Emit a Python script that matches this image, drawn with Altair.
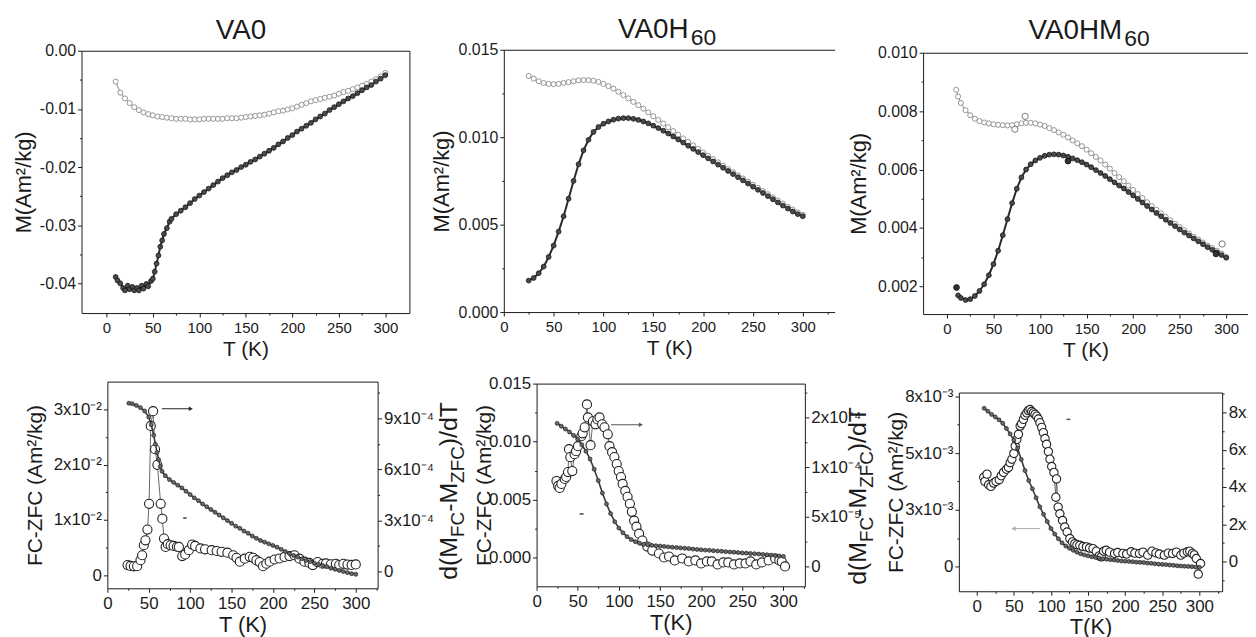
import altair as alt
import pandas as pd

W, H = 1248, 629
FONT = "Liberation Sans"
INK = "#1b1b1b"

# ---------------- data ----------------
# VA0, M(T): FC (open) and ZFC (filled)
va0_fc_T = [10, 15, 20, 25, 30, 35, 40, 45, 50, 55, 60, 65, 70, 75, 80, 85, 90, 95, 100, 105,
            110, 115, 120, 125, 130, 135, 140, 145, 150, 155, 160, 165, 170, 175, 180, 185, 190,
            195, 200, 205, 210, 215, 220, 225, 230, 235, 240, 245, 250, 255, 260, 265, 270, 275,
            280, 285, 290, 295, 300]
va0_fc_M = [-0.0053, -0.0072, -0.0082, -0.0090, -0.0097, -0.0102, -0.0106, -0.0109, -0.0111,
            -0.0113, -0.0114, -0.0115, -0.0116, -0.0117, -0.0117, -0.0117, -0.0118, -0.0118,
            -0.0118, -0.0117, -0.0117, -0.0117, -0.0117, -0.0117, -0.0116, -0.0116, -0.0116,
            -0.0115, -0.0114, -0.0113, -0.0112, -0.0111, -0.0110, -0.0108, -0.0106, -0.0104,
            -0.0103, -0.0101, -0.0099, -0.0096, -0.0093, -0.0090, -0.0087, -0.0085, -0.0083,
            -0.0081, -0.0079, -0.0077, -0.0074, -0.0071, -0.0069, -0.0066, -0.0063, -0.0060,
            -0.0057, -0.0053, -0.0049, -0.0044, -0.0038]
va0_zfc_T = [10, 12, 15, 18, 20, 23, 25, 28, 30, 33, 35, 38, 40, 43, 45, 48, 50, 52, 54, 56, 58,
             60, 62, 65, 68, 70, 75, 80, 85, 90, 95, 100, 105, 110, 115, 120, 125, 130, 135, 140,
             145, 150, 155, 160, 165, 170, 175, 180, 185, 190, 195, 200, 205, 210, 215, 220, 225,
             230, 235, 240, 245, 250, 255, 260, 265, 270, 275, 280, 285, 290, 295, 300]
va0_zfc_M = [-0.0389, -0.0395, -0.0400, -0.0408, -0.0412, -0.0404, -0.0410, -0.0406, -0.0412,
             -0.0408, -0.0412, -0.0404, -0.0409, -0.0401, -0.0405, -0.0396, -0.0392, -0.0380,
             -0.0366, -0.0352, -0.0337, -0.0326, -0.0315, -0.0305, -0.0294, -0.0289,
             -0.0281, -0.0275, -0.0269, -0.0262, -0.0255, -0.0249, -0.0243, -0.0237, -0.0231,
             -0.0225, -0.0219, -0.0214, -0.0209, -0.0205, -0.0200, -0.0196, -0.0191, -0.0187,
             -0.0182, -0.0177, -0.0172, -0.0167, -0.0161, -0.0156, -0.0150, -0.0145, -0.0139,
             -0.0134, -0.0129, -0.0124, -0.0118, -0.0113, -0.0108, -0.0102, -0.0097, -0.0092,
             -0.0087, -0.0082, -0.0078, -0.0073, -0.0068, -0.0063, -0.0059, -0.0053, -0.0048,
             -0.0042]

# VA0H60, M(T)
h60_T = [25, 30, 35, 40, 45, 50, 55, 60, 65, 70, 75, 80, 85, 90, 95, 100, 105, 110, 115, 120,
         125, 130, 135, 140, 145, 150, 155, 160, 165, 170, 175, 180, 185, 190, 195, 200, 205,
         210, 215, 220, 225, 230, 235, 240, 245, 250, 255, 260, 265, 270, 275, 280, 285, 290,
         295, 300]
h60_fc_M = [0.01350, 0.01335, 0.01320, 0.01310, 0.01305, 0.01303, 0.01305, 0.01310, 0.01315,
            0.01320, 0.01325, 0.01327, 0.01326, 0.01323, 0.01316, 0.01305, 0.01292, 0.01278,
            0.01260, 0.01241, 0.01222, 0.01202, 0.01183, 0.01163, 0.01142, 0.01120, 0.01099,
            0.01078, 0.01057, 0.01035, 0.01014, 0.00993, 0.00973, 0.00953, 0.00933, 0.00913,
            0.00894, 0.00875, 0.00856, 0.00837, 0.00818, 0.00800, 0.00782, 0.00764, 0.00746,
            0.00728, 0.00710, 0.00692, 0.00674, 0.00656, 0.00638, 0.00620, 0.00602, 0.00586,
            0.00570, 0.00556]
h60_zfc_M = [0.00180, 0.00195, 0.00222, 0.00260, 0.00315, 0.00380, 0.00460, 0.00548, 0.00648,
             0.00750, 0.00845, 0.00925, 0.00985, 0.01030, 0.01058, 0.01077, 0.01090, 0.01100,
             0.01106, 0.01109, 0.01109, 0.01105, 0.01099, 0.01090, 0.01079, 0.01066, 0.01052,
             0.01037, 0.01021, 0.01004, 0.00987, 0.00969, 0.00951, 0.00933, 0.00915, 0.00897,
             0.00879, 0.00861, 0.00843, 0.00825, 0.00807, 0.00789, 0.00771, 0.00753, 0.00735,
             0.00717, 0.00699, 0.00681, 0.00663, 0.00645, 0.00627, 0.00609, 0.00592, 0.00575,
             0.00560, 0.00548]

# VA0HM60, M(T)
hm60_fc_T = [10, 12, 15, 20, 25, 30, 35, 40, 45, 50, 55, 60, 65, 70, 75, 80, 85, 90, 95, 100,
             105, 110, 115, 120, 125, 130, 135, 140, 145, 150, 155, 160, 165, 170, 175, 180, 185,
             190, 195, 200, 205, 210, 215, 220, 225, 230, 235, 240, 245, 250, 255, 260, 265, 270,
             275, 280, 285, 290, 295, 300]
hm60_fc_M = [0.00873, 0.00850, 0.00828, 0.00803, 0.00786, 0.00774, 0.00766, 0.00761, 0.00758,
             0.00755, 0.00753, 0.00752, 0.00751, 0.00752, 0.00755, 0.00758, 0.00760, 0.00760,
             0.00758, 0.00754, 0.00749, 0.00742, 0.00735, 0.00727, 0.00719, 0.00710, 0.00700,
             0.00690, 0.00680, 0.00668, 0.00656, 0.00643, 0.00631, 0.00617, 0.00603, 0.00588,
             0.00574, 0.00560, 0.00545, 0.00530, 0.00516, 0.00502, 0.00488, 0.00475, 0.00462,
             0.00450, 0.00438, 0.00426, 0.00414, 0.00403, 0.00392, 0.00381, 0.00370, 0.00360,
             0.00350, 0.00340, 0.00331, 0.00322, 0.00312, 0.00300]
hm60_fc_out_T = [73, 84, 295.6]
hm60_fc_out_M = [0.00738, 0.00782, 0.00345]
hm60_zfc_T = [12, 15, 20, 25, 30, 35, 40, 45, 50, 55, 60, 65, 70, 75, 80, 85, 90, 95, 100, 105,
              110, 115, 120, 125, 130, 135, 140, 145, 150, 155, 160, 165, 170, 175, 180, 185, 190,
              195, 200, 205, 210, 215, 220, 225, 230, 235, 240, 245, 250, 255, 260, 265, 270, 275,
              280, 285, 290, 295, 300]
hm60_zfc_M = [0.00169, 0.00160, 0.00153, 0.00156, 0.00167, 0.00184, 0.00207, 0.00238, 0.00276,
              0.00322, 0.00375, 0.00430, 0.00485, 0.00534, 0.00573, 0.00600, 0.00618, 0.00631,
              0.00640, 0.00647, 0.00651, 0.00652, 0.00651, 0.00648, 0.00644, 0.00638, 0.00632,
              0.00625, 0.00617, 0.00608, 0.00598, 0.00588, 0.00578, 0.00567, 0.00556, 0.00545,
              0.00535, 0.00523, 0.00511, 0.00499, 0.00487, 0.00475, 0.00463, 0.00451, 0.00440,
              0.00428, 0.00417, 0.00406, 0.00395, 0.00384, 0.00374, 0.00364, 0.00354, 0.00344,
              0.00334, 0.00325, 0.00316, 0.00307, 0.00298]
hm60_zfc_out_T = [10.3, 130, 289]
hm60_zfc_out_M = [0.00196, 0.00629, 0.00311]

# VA0: FC-ZFC (left) and d(MFC-MZFC)/dT in units of 1e-4 (right)
va0_d_T = [26, 30, 35, 40, 45, 50, 53, 56, 58, 60, 62, 64, 66, 70, 75, 80, 85, 90, 95, 100, 105,
           110, 115, 120, 125, 130, 135, 140, 145, 150, 155, 160, 165, 170, 175, 180, 185, 190,
           195, 200, 205, 210, 215, 220, 225, 230, 235, 240, 245, 250, 255, 260, 265, 270, 275,
           280, 285, 290, 295, 300]
va0_d_M = [0.0311, 0.0310, 0.0307, 0.0303, 0.0297, 0.0286, 0.0272, 0.0253, 0.0237, 0.0222,
           0.0209, 0.0197, 0.0188, 0.0180, 0.0173, 0.0168, 0.0163, 0.0158, 0.0152, 0.0146,
           0.0140, 0.0135, 0.0129, 0.0124, 0.0119, 0.0114, 0.0109, 0.0104, 0.0099, 0.0094,
           0.0089, 0.0085, 0.0080, 0.0076, 0.0071, 0.0067, 0.0063, 0.0060, 0.0057, 0.0054,
           0.0051, 0.0047, 0.0043, 0.0039, 0.0036, 0.0033, 0.0030, 0.0027, 0.0025, 0.0022,
           0.0020, 0.0018, 0.0016, 0.0013, 0.0011, 0.0009, 0.0007, 0.0005, 0.0003, 0.0002]
va0_r_T = [24.4, 28, 32, 36, 40, 42, 44, 46, 48.4, 50.4, 52.4, 55.2, 57.6, 60.4, 64.4, 66.4, 68.4,
           70.4, 73, 76.4, 80, 84, 86.4, 90.4, 94, 98.4, 102.4, 106, 112.4, 118, 126, 132, 138,
           145, 152, 156, 160, 166, 172, 176, 180, 184, 188, 192, 196, 202, 208, 214, 220, 226,
           232, 238, 244, 248, 254, 260, 264, 270, 276, 280, 285, 290, 295, 300]
va0_r_V = [0.37, 0.32, 0.30, 0.31, 0.66, 0.95, 1.54, 1.83, 2.46, 3.98, 8.56, 9.43, 7.19, 6.27,
           3.98, 3.10, 1.93, 1.44, 1.60, 1.54, 1.50, 1.45, 1.44, 0.90, 1.00, 1.25, 1.58, 1.50,
           1.35, 1.30, 1.25, 1.20, 1.15, 1.10, 0.95, 0.80, 0.57, 0.75, 0.86, 0.80, 0.66, 0.55,
           0.31, 0.45, 0.57, 0.70, 0.76, 0.85, 0.90, 0.95, 0.75, 0.57, 0.50, 0.37, 0.55, 0.45,
           0.47, 0.42, 0.45, 0.37, 0.45, 0.40, 0.38, 0.41]

# VA0H60: FC-ZFC (left) and derivative in units of 1e-5 (right)
h60_d_M = [0.01157, 0.01133, 0.01108, 0.01083, 0.01053, 0.01020, 0.00972, 0.00917, 0.00849,
           0.00762, 0.00664, 0.00556, 0.00462, 0.00379, 0.00309, 0.00254, 0.00213, 0.00180,
           0.00155, 0.00137, 0.00124, 0.00114, 0.00109, 0.00105, 0.00102, 0.00099, 0.00096,
           0.00092, 0.00089, 0.00086, 0.00083, 0.00080, 0.00077, 0.00073, 0.00070, 0.00067,
           0.00064, 0.00062, 0.00059, 0.00056, 0.00054, 0.00051, 0.00048, 0.00046, 0.00043,
           0.00040, 0.00038, 0.00035, 0.00033, 0.00030, 0.00027, 0.00024, 0.00021, 0.00017,
           0.00013, 0.00010]
h60_r_T = [24.2, 26.2, 28, 30.2, 34.2, 36, 38.2, 39.4, 41, 43.4, 46.2, 48, 50.3, 54.3, 56, 58.4,
           61.2, 62.4, 65.6, 68.4, 71.6, 74, 76.5, 79.7, 82.5, 86.5, 88.6, 91.8, 94.6, 97.4, 99.8,
           102.6, 104.6, 107.8, 110.6, 113.4, 115.8, 118.6, 121.4, 124.6, 128.6, 134.6, 140.6,
           148.7, 155, 161, 168, 177, 185, 193, 200, 207, 213, 220, 227, 233, 240, 247, 254, 260,
           267, 274, 282, 290, 295, 298, 302]
h60_r_V = [8.6, 8.1, 7.9, 8.3, 8.8, 9.0, 9.5, 11.8, 11.0, 9.6, 11.3, 11.6, 12.1, 13.1, 13.4, 14.0,
           16.3, 15.0, 12.2, 14.6, 14.3, 14.8, 15.0, 14.3, 14.0, 13.3, 12.1, 11.5, 11.0, 10.3,
           9.6, 9.0, 8.3, 7.6, 7.0, 6.3, 5.5, 4.6, 4.0, 3.3, 2.6, 2.0, 1.6, 1.3, 0.9, 1.0, 0.6,
           0.8, 0.5, 0.6, 0.3, 0.5, 0.5, 0.2, 0.4, 0.4, 0.2, 0.3, 0.3, 0.5, 0.2, 0.4, 0.6, 0.8,
           0.6, 0.5, 0.0]

# VA0HM60: FC-ZFC (left) and derivative in units of 1e-5 (right)
hm60_d_T = [10, 15, 20, 25, 30, 35, 40, 45, 50, 55, 60, 65, 70, 75, 80, 85, 90, 95, 100, 105,
            110, 115, 120, 125, 130, 135, 140, 145, 150, 155, 160, 165, 170, 175, 180, 185, 190,
            195, 200, 205, 210, 215, 220, 225, 230, 235, 240, 245, 250, 255, 260, 265, 270, 275,
            280, 285, 290, 295, 300]
hm60_d_M = [0.00698, 0.00685, 0.00671, 0.00660, 0.00647, 0.00632, 0.00609, 0.00585, 0.00558,
            0.00522, 0.00472, 0.00423, 0.00379, 0.00343, 0.00303, 0.00263, 0.00230, 0.00198,
            0.00167, 0.00143, 0.00122, 0.00104, 0.00090, 0.00080, 0.00071, 0.00063, 0.00056,
            0.00051, 0.00047, 0.00043, 0.00040, 0.00037, 0.00034, 0.00032, 0.00030, 0.00028,
            0.00026, 0.00024, 0.00023, 0.00022, 0.00021, 0.00019, 0.00018, 0.00017, 0.00015,
            0.00014, 0.00012, 0.00010, 0.00009, 0.00008, 0.00006, 0.00005, 0.00003, 0.00002,
            0.00001, 0.00000, -0.00001, -0.00003, -0.00004]
hm60_r_T = [9.4, 11, 13.8, 16, 19.1, 22.8, 26, 30.3, 33, 36.1, 40, 42.8, 45, 47.3, 50, 51.8, 54,
            56.2, 58.5, 60.5, 62.9, 65, 67.4, 69.5, 71.8, 74, 76.3, 78.5, 80.8, 83, 85.2, 87.5,
            89.7, 92, 94.1, 96.5, 98.6, 101, 104, 106.6, 107.5, 109.7, 112, 115.6, 118.6, 121.8,
            125.4, 129, 132.1, 135, 138.8, 143, 147.7, 152, 156.6, 161, 165, 167.8, 171, 174.5,
            179, 185.7, 190, 196.9, 202, 208, 213, 219.2, 224, 230.4, 236, 241.5, 246, 252.7,
            258, 263.8, 269, 275, 279, 283.7, 287, 290.4, 293, 295.8, 298.5, 301.6]
hm60_r_V = [4.52, 4.30, 4.69, 4.12, 4.03, 4.21, 4.30, 4.39, 4.60, 4.78, 4.95, 5.05, 5.30, 5.49,
            5.80, 6.20, 6.55, 6.83, 7.27, 7.40, 7.63, 7.85, 7.98, 8.10, 8.16, 8.05, 7.98, 7.90,
            7.80, 7.65, 7.45, 7.20, 6.92, 6.60, 6.29, 5.90, 5.49, 5.10, 4.78, 3.45, 4.43, 2.92,
            2.56, 2.20, 1.85, 1.58, 1.23, 1.05, 0.96, 0.90, 0.87, 0.80, 0.78, 0.72, 0.69, 0.55,
            0.30, 0.25, 0.55, 0.60, 0.50, 0.43, 0.48, 0.43, 0.40, 0.52, 0.45, 0.43, 0.50, 0.34,
            0.55, 0.46, 0.40, 0.34, 0.45, 0.43, 0.50, 0.34, 0.45, 0.52, 0.55, 0.43, 0.35, 0.16,
            -0.68, -0.11]

# arrows and small marks drawn inside the lower panels (data coordinates)
va0_arrow = {"T1": [66.0], "T2": [100.8], "V": [0.0301]}
va0_tick = {"T1": [91.6], "T2": [95.6], "V": [0.01036]}
h60_arrow = {"T1": [90.6], "T2": [126.8], "V": [0.01145]}
h60_tick = {"T1": [52.3], "T2": [57.1], "V": [0.00376]}
hm60_arrow = {"T1": [85.3], "T2": [49.5], "V": [0.00167]}
hm60_tick = {"T1": [120.9], "T2": [126.2], "V": [0.00649]}

# ---------------- helpers ----------------
def df(T, V):
    return pd.DataFrame({"T": T, "V": V})


def sc(dom, rng):
    return alt.Scale(domain=dom, range=rng, nice=False, zero=False)


def axis(orient, pos, values=(), labels=True, tick=4, expr=None, fmt=None, title=None,
         fs=16, tfs=21, tpad=2, lpad=2, domain=True, ticks=True):
    off = {"bottom": pos - H, "top": -pos, "left": -pos, "right": pos - W}[orient]
    kw = dict(orient=orient, offset=off, grid=False, domain=domain, ticks=ticks,
              labels=labels, values=list(values), domainColor=INK, domainWidth=1,
              tickColor=INK, tickWidth=1, tickSize=tick, labelFont=FONT, labelFontSize=fs,
              labelColor=INK, labelPadding=lpad, labelOverlap=False, labelFlush=False,
              titleFont=FONT, titleFontSize=tfs, titleFontWeight="normal", titleColor=INK,
              titlePadding=tpad, title=title)
    if expr:
        kw["labelExpr"] = expr
    if fmt:
        kw["format"] = fmt
    return alt.Axis(**kw)


def enc(chart, xs, ys, xa=None, ya=None):
    return chart.encode(x=alt.X("T:Q", scale=xs, axis=xa), y=alt.Y("V:Q", scale=ys, axis=ya))


def line(data, xs, ys, color, width=1.0, xa=None, ya=None):
    return enc(alt.Chart(data).mark_line(color=color, strokeWidth=width), xs, ys, xa, ya)


def dots(data, xs, ys, fill, stroke, size, sw=0.8, xa=None, ya=None):
    m = alt.Chart(data).mark_point(shape="circle", filled=True, fill=fill, stroke=stroke,
                                   strokeWidth=sw, size=size, opacity=1)
    return enc(m, xs, ys, xa, ya)


def arrow(spec, xs, ys, color, head):
    d = pd.DataFrame(spec)
    r = alt.Chart(d).mark_rule(color=color, strokeWidth=1).encode(
        x=alt.X("T1:Q", scale=xs, axis=None), x2="T2:Q", y=alt.Y("V:Q", scale=ys, axis=None))
    h = alt.Chart(d).mark_point(shape=head, filled=True, color=color, size=22, opacity=1).encode(
        x=alt.X("T2:Q", scale=xs, axis=None), y=alt.Y("V:Q", scale=ys, axis=None))
    return [r, h]


def dash(spec, xs, ys, color):
    d = pd.DataFrame(spec)
    return alt.Chart(d).mark_rule(color=color, strokeWidth=1.5).encode(
        x=alt.X("T1:Q", scale=xs, axis=None), x2="T2:Q", y=alt.Y("V:Q", scale=ys, axis=None))


ONE = pd.DataFrame({"k": [0]})
AW = {"d": 0.556, "(": 0.333, "M": 0.833, "F": 0.611, "C": 0.722, "-": 0.333, "Z": 0.611,
      ")": 0.333, "/": 0.278, "T": 0.611, "V": 0.667, "A": 0.667, "0": 0.556, "H": 0.722,
      "6": 0.556}


def tw(s, fs):
    return sum(AW.get(c, 0.556) for c in s) * fs


def text(s, x, y, fs, angle=0):
    kw = dict(text=s, align="left", baseline="alphabetic", font=FONT, fontSize=fs, color=INK)
    if angle:
        kw["angle"] = angle
    return alt.Chart(ONE).mark_text(**kw).encode(x=alt.value(x), y=alt.value(y))


def panel_title(main, sub, x0, base, fs=28, sfs=23):
    out = [text(main, x0, base, fs)]
    if sub:
        out.append(text(sub, x0 + tw(main, fs), base + 7, sfs))
    return out


def dmdt_title(xb, yc, fs=25, sfs=19):
    pieces = [("d(M", False), ("FC", True), ("-M", False), ("ZFC", True), (")/dT", False)]
    total = sum(tw(p, sfs if s else fs) for p, s in pieces)
    y = yc + total / 2
    out = []
    for p, s in pieces:
        f = sfs if s else fs
        out.append(text(p, xb + (0.26 * fs if s else 0), y, f, angle=270))
        y -= tw(p, f)
    return out


MAJ_T = [0, 50, 100, 150, 200, 250, 300]
MIN_T = [25, 75, 125, 175, 225, 275, 325]
DASH_MINUS = "replace(format(datum.value, '.2f'), '\u2212', '-')"

FC_OPEN = dict(fill="white", stroke="#8a8a8a", size=26, sw=0.9)
ZFC_FILL = dict(fill="#4a4a4a", stroke="#151515", size=24, sw=0.8)

layers = []

# ---------------- panel 1: VA0 ----------------
x1 = sc([-26.7, 325.9], [74, 404])
y1 = sc([-0.0451, 0.0], [305, 41])
d1f, d1z = df(va0_fc_T, va0_fc_M), df(va0_zfc_T, va0_zfc_M)
layers += [
    line(d1f, x1, y1, "#a0a0a0", 1.2,
         axis("bottom", 305, MAJ_T, fs=15, lpad=4, title="T (K)", tfs=21, tpad=3),
         axis("left", 74, [0, -0.01, -0.02, -0.03, -0.04], expr=DASH_MINUS,
              title="M(Am\u00b2/kg)", tfs=22, tpad=4)),
    line(d1z, x1, y1, "#2a2a2a", 2.0,
         axis("bottom", 305, MIN_T[:-1], labels=False, tick=2, domain=False),
         axis("left", 74, [-0.005, -0.015, -0.025, -0.035], labels=False, tick=2,
              domain=False)),
    dots(d1f, x1, y1, xa=axis("top", 41, labels=False, ticks=False, tick=0),
         ya=axis("right", 404, labels=False, ticks=False, tick=0), **FC_OPEN),
    dots(d1z, x1, y1, **ZFC_FILL),
]
layers += panel_title("VA0", None, 209, 29)

# ---------------- panel 2: VA0H60 ----------------
x2 = sc([0, 332], [499, 832])
y2 = sc([0, 0.015], [304, 40])
d2f, d2z = df(h60_T, h60_fc_M), df(h60_T, h60_zfc_M)
layers += [
    line(d2f, x2, y2, "#a0a0a0", 1.2,
         axis("bottom", 304, MAJ_T, fs=15, lpad=4, title="T (K)", tfs=21, tpad=3),
         axis("left", 499, [0, 0.005, 0.010, 0.015], fmt=".3f",
              title="M(Am\u00b2/kg)", tfs=22, tpad=5)),
    line(d2z, x2, y2, "#2a2a2a", 2.0,
         axis("bottom", 304, MIN_T, labels=False, tick=2, domain=False),
         axis("left", 499, [0.0025, 0.0075, 0.0125], labels=False, tick=2, domain=False)),
    dots(d2f, x2, y2, xa=axis("top", 40, labels=False, ticks=False, tick=0), **FC_OPEN),
    dots(d2z, x2, y2, **ZFC_FILL),
]
layers += panel_title("VA0H", "60", 614, 28)

# ---------------- panel 3: VA0HM60 ----------------
x3 = sc([-25.6, 323.4], [921, 1248])
y3 = sc([0.00105, 0.010], [306, 43])
d3f, d3z = df(hm60_fc_T, hm60_fc_M), df(hm60_zfc_T, hm60_zfc_M)
layers += [
    line(d3f, x3, y3, "#a0a0a0", 1.2,
         axis("bottom", 306, MAJ_T, fs=15, lpad=4, title="T (K)", tfs=21, tpad=3),
         axis("left", 921, [0.002, 0.004, 0.006, 0.008, 0.010], fmt=".3f",
              title="M(Am\u00b2/kg)", tfs=22, tpad=7)),
    line(d3z, x3, y3, "#2a2a2a", 2.0,
         axis("bottom", 306, MIN_T[:-1], labels=False, tick=2, domain=False),
         axis("left", 921, [0.003, 0.005, 0.007, 0.009], labels=False, tick=2,
              domain=False)),
    dots(d3f, x3, y3, xa=axis("top", 43, labels=False, ticks=False, tick=0), **FC_OPEN),
    dots(df(hm60_fc_out_T, hm60_fc_out_M), x3, y3, fill="white", stroke="#777", size=40,
         sw=1),
    dots(d3z, x3, y3, **ZFC_FILL),
    dots(df(hm60_zfc_out_T, hm60_zfc_out_M), x3, y3, fill="#333", stroke="#111", size=34),
]
layers += panel_title("VA0HM", "60", 1027, 29)

# ---------------- lower panels ----------------
OPEN_BIG = dict(fill="white", stroke="#222", sw=1.1)
SMALL_FILL = dict(fill="#6a6a6a", stroke="#1e1e1e", size=16, sw=0.7)


def lower(dl, dr, xs, yl, yr, box, xmaj_title, lvals, lexpr, lfmt, lminor, rvals, rexpr,
          rminor, rsize, ltpad):
    left, right, top, bottom = box
    out = [
        line(dr, xs, yr, "#555", 0.9,
             axis("bottom", bottom, MAJ_T, fs=17, lpad=3, title=xmaj_title, tfs=22,
                  tpad=3),
             axis("right", right, rvals, expr=rexpr, fs=17, lpad=2)),
        dots(dr, xs, yr, size=rsize,
             xa=axis("bottom", bottom, MIN_T, labels=False, tick=2, domain=False),
             ya=axis("right", right, rminor, labels=False, tick=2, domain=False),
             **OPEN_BIG),
        line(dl, xs, yl, "#3a3a3a", 1.6,
             axis("top", top, labels=False, ticks=False, tick=0),
             axis("left", left, lvals, expr=lexpr, fmt=lfmt, fs=17, lpad=2,
                  title="FC-ZFC (Am\u00b2/kg)", tfs=21, tpad=ltpad)),
        dots(dl, xs, yl, ya=axis("left", left, lminor, labels=False, tick=2, domain=False),
             **SMALL_FILL),
    ]
    return out


# panel 4: VA0
x4 = sc([0, 326.4], [100, 372])
yl4 = sc([-0.00233, 0.035], [582, 374])
yr4 = sc([-0.994, 11.17], [582, 374])
layers += lower(df(va0_d_T, va0_d_M), df(va0_r_T, va0_r_V), x4, yl4, yr4,
                (100, 372, 374, 582), "T (K)",
                [0, 0.01, 0.02, 0.03],
                "datum.value == 0 ? '0' : format(round(datum.value*100), 'd') + 'x10\u207b\u00b2'",
                None, [0.005, 0.015, 0.025],
                [0, 3, 6, 9],
                "datum.value == 0 ? '0' : format(round(datum.value), 'd') + 'x10\u207b\u2074'",
                [1.5, 4.5, 7.5, 10.5], 84, 8)
layers += arrow(va0_arrow, x4, yl4, "#222", "triangle-right")
layers += [dash(va0_tick, x4, yl4, "#333")]
layers += dmdt_title(452, 484)

# panel 5: VA0H60
x5 = sc([0, 326.1], [532, 802])
yl5 = sc([-0.00248, 0.015], [580, 376])
yr5 = sc([-2.0, 18.4], [580, 376])
layers += lower(df(h60_T, h60_d_M), df(h60_r_T, h60_r_V), x5, yl5, yr5,
                (532, 802, 376, 580), "T(K)",
                [0, 0.005, 0.010, 0.015], None, ".3f", [0.0025, 0.0075, 0.0125],
                [0, 5, 10, 15],
                "datum.value == 0 ? '0' : datum.value < 7 ? '5x10\u207b\u2075' : "
                "datum.value < 12 ? '1x10\u207b\u2074' : '2x10\u207b\u2074'",
                [2.5, 7.5, 12.5, 17.5], 84, -6)
layers += arrow(h60_arrow, x5, yl5, "#555", "triangle-right")
layers += [dash(h60_tick, x5, yl5, "#444")]
layers += dmdt_title(864, 489)

# panel 6: VA0HM60
x6 = sc([-24.1, 330.7], [957, 1222])
yl6 = sc([-0.001096, 0.007675], [585, 385])
yr6 = sc([-1.6, 9.07], [585, 385])
layers += lower(df(hm60_d_T, hm60_d_M), df(hm60_r_T, hm60_r_V), x6, yl6, yr6,
                (957, 1222, 385, 585), "T(K)",
                [0, 0.0025, 0.005, 0.0075],
                "datum.value == 0 ? '0' : format(round(datum.value*1000), 'd') + 'x10\u207b\u00b3'",
                None, [0.00125, 0.00375, 0.00625],
                [0, 2, 4, 6, 8],
                "datum.value == 0 ? '0' : format(round(datum.value), 'd') + 'x10\u207b\u2075'",
                [-1, 1, 3, 5, 7, 9], 70, -2)
layers += arrow(hm60_arrow, x6, yl6, "#aaaaaa", "triangle-left")
layers += [dash(hm60_tick, x6, yl6, "#555")]

chart = alt.layer(*layers).resolve_scale(x="independent", y="independent").properties(
    width=W, height=H, padding=0, autosize=alt.AutoSizeParams(type="none")
).configure_view(stroke=None)

chart.save("out.html", embed_options={"renderer": "svg", "actions": False})
